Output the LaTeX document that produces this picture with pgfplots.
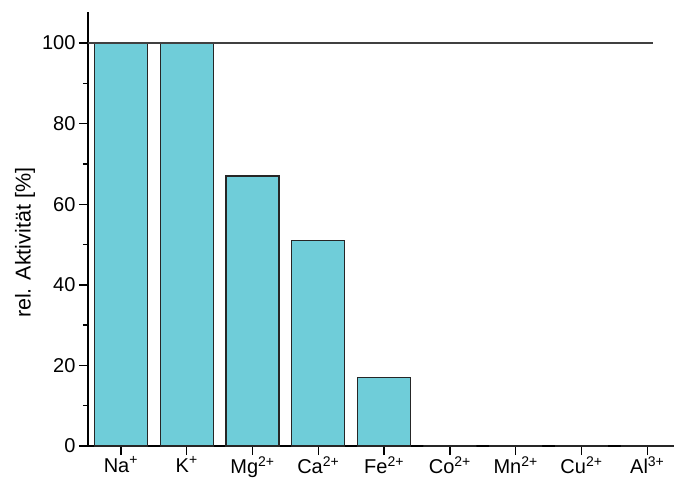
\documentclass[border=0pt]{standalone}
\usepackage{pgfplots}
\pgfplotsset{compat=1.18}
\usepackage{fontspec}
\setmainfont{Liberation Sans}
\definecolor{barcyan}{HTML}{6FCDD9}
\begin{document}
\begin{tikzpicture}
\useasboundingbox (-88pt,-34pt) rectangle (586pt,446pt);
\begin{axis}[
  at={(0,0)}, anchor=south west,
  scale only axis,
  width=586pt, height=434pt,
  xmin=-0.5, xmax=8.406,
  ymin=0, ymax=107.7,
  axis x line=bottom, axis y line=left,
  axis line style={line width=1.6pt, -},
  xtick={0,1,2,3,4,5,6,7,8},
  xticklabels={Na\textsuperscript{+},K\textsuperscript{+},Mg\textsuperscript{2+},Ca\textsuperscript{2+},Fe\textsuperscript{2+},Co\textsuperscript{2+},Mn\textsuperscript{2+},Cu\textsuperscript{2+},Al\textsuperscript{3+}},
  ytick={0,20,40,60,80,100},
  minor ytick={10,30,50,70,90},
  tick align=outside,
  major tick length=9pt,
  minor tick length=5pt,
  every tick/.style={line width=1.4pt, black},
  tick label style={font=\fontsize{20}{24}\selectfont},
  xticklabel style={yshift=2pt},
  /pgf/number format/assume math mode=true,
  ylabel={rel. Aktivität [\%]},
  ylabel style={font=\fontsize{21.5}{25}\selectfont, at={(axis description cs:-0.1075,0.468)}, anchor=center, rotate=0},
  clip=false,
]
\addplot[ybar, bar width=0.805, fill=barcyan, draw=black!85, line width=1.3pt]
  coordinates {(0,100) (1,100) (2,67) (3,51) (4,17) (5,0) (6,0) (7,0) (8,0)};
\addplot[black!75, line width=1.8pt] coordinates {(-0.5,100) (8.08,100)};
\end{axis}
\end{tikzpicture}
\end{document}
